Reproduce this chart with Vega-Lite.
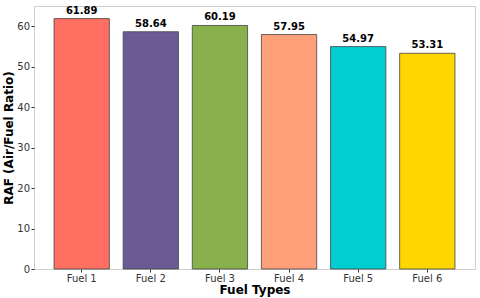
{
  "$schema": "https://vega.github.io/schema/vega-lite/v6.json",
  "width": 480,
  "height": 298,
  "autosize": {"type": "fit", "contains": "padding"},
  "padding": {"left": 2, "right": 5, "top": 6, "bottom": 3},
  "background": "white",
  "config": {
    "font": "DejaVu Sans",
    "view": {"stroke": "#cccccc", "strokeWidth": 1},
    "axis": {
      "grid": false,
      "domain": false,
      "labelFont": "DejaVu Sans",
      "labelFontSize": 10,
      "labelColor": "#333333",
      "tickColor": "#333333",
      "tickSize": 3,
      "labelPadding": 2,
      "titleFont": "DejaVu Sans",
      "titleFontSize": 12,
      "titleFontWeight": "bold",
      "titleColor": "#000000"
    }
  },
  "data": {
    "values": [
      {"fuel": "Fuel 1", "raf": 61.89},
      {"fuel": "Fuel 2", "raf": 58.64},
      {"fuel": "Fuel 3", "raf": 60.19},
      {"fuel": "Fuel 4", "raf": 57.95},
      {"fuel": "Fuel 5", "raf": 54.97},
      {"fuel": "Fuel 6", "raf": 53.31}
    ]
  },
  "encoding": {
    "x": {
      "field": "fuel",
      "type": "nominal",
      "sort": null,
      "title": "Fuel Types",
      "scale": {"paddingInner": 0.2, "paddingOuter": 0.29},
      "axis": {"labelAngle": 0, "titlePadding": 1, "labelPadding": 1}
    },
    "y": {
      "field": "raf",
      "type": "quantitative",
      "title": "RAF (Air/Fuel Ratio)",
      "scale": {"domain": [0, 65], "nice": false},
      "axis": {"values": [0, 10, 20, 30, 40, 50, 60], "titlePadding": 1, "labelPadding": 1.5}
    }
  },
  "layer": [
    {
      "mark": {"type": "bar", "stroke": "#444444", "strokeWidth": 1, "strokeOpacity": 0.8},
      "encoding": {
        "color": {
          "field": "fuel",
          "type": "nominal",
          "sort": null,
          "legend": null,
          "scale": {
            "domain": ["Fuel 1", "Fuel 2", "Fuel 3", "Fuel 4", "Fuel 5", "Fuel 6"],
            "range": ["#FF6F61", "#6B5B95", "#88B04B", "#FFA07A", "#00CED1", "#FFD700"]
          }
        }
      }
    },
    {
      "mark": {"type": "text", "baseline": "bottom", "dy": -3, "fontSize": 10, "fontWeight": "bold", "color": "#000000", "font": "DejaVu Sans"},
      "encoding": {
        "text": {"field": "raf", "type": "quantitative", "format": ".2f"}
      }
    }
  ]
}
